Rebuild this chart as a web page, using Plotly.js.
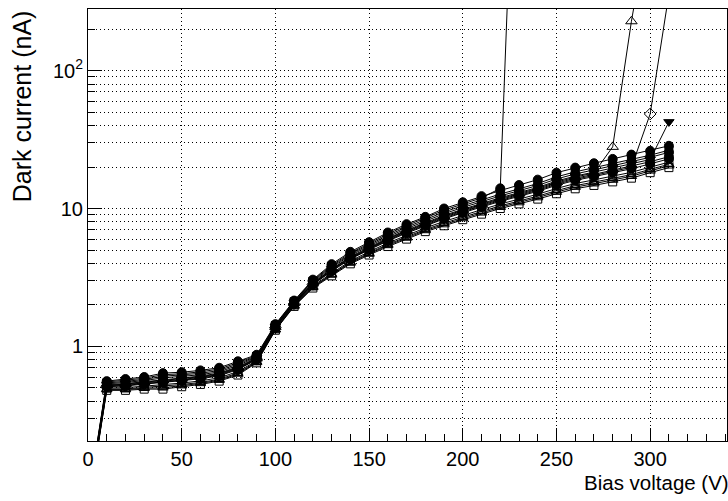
<!DOCTYPE html>
<html><head><meta charset="utf-8">
<script src="https://cdn.plot.ly/plotly-3.0.1.min.js"></script>
<style>html,body{margin:0;padding:0;background:#fff}#chart{width:728px;height:501px}</style>
</head><body><div id="chart"></div>
<script>
// Bias voltage (V)
const voltage = [0,10,20,30,40,50,60,70,80,90,100,110,120,130,140,150,160,170,180,190,200,210,220,230,240,250,260,270,280,290,300,310];

// Dark current (nA) per sensor
const s1 = [0.075,0.56,0.58,0.60,0.64,0.65,0.67,0.70,0.78,0.87,1.45,2.15,3.05,3.95,4.85,5.7,6.7,7.7,8.7,10.0,11.1,12.3,13.5,14.8,16.2,18.2,19.8,21.3,22.9,24.6,26.2,28.5];
const sA = [0.074,0.552,0.569,0.588,0.623,0.634,0.654,0.685,0.762,0.858,1.435,2.13,3.01,3.87,4.75,5.58,6.54,7.51,8.49,9.72,10.78,11.93,14.0,50000];
const s2 = [0.073,0.543,0.558,0.576,0.607,0.619,0.638,0.669,0.745,0.847,1.421,2.11,2.97,3.80,4.66,5.46,6.39,7.32,8.28,9.44,10.47,11.58,12.72,13.9,15.18,16.96,18.45,19.78,21.21,22.74,24.36,26.5];
const s3 = [0.072,0.535,0.548,0.565,0.591,0.604,0.623,0.654,0.728,0.836,1.407,2.09,2.92,3.73,4.57,5.35,6.24,7.14,8.08,9.17,10.17,11.24,12.34,13.47,14.7,16.37,17.81,19.06,20.41,21.86,23.5,25.56];
const sD = [0.071,0.527,0.537,0.553,0.575,0.590,0.609,0.640,0.711,0.824,1.393,2.07,2.88,3.65,4.47,5.23,6.10,6.97,7.88,8.91,9.88,10.90,11.97,13.05,14.23,15.81,17.19,18.36,19.64,21.02,22.66,42.5];
const sB = [0.0705,0.522,0.533,0.548,0.568,0.583,0.603,0.633,0.703,0.818,1.385,2.06,2.86,3.62,4.42,5.17,6.03,6.88,7.78,8.78,9.74,10.74,11.79,12.84,14.0,15.53,16.9,18.1,28.0,228,1400];
const s4 = [0.070,0.518,0.528,0.542,0.560,0.576,0.596,0.626,0.695,0.813,1.378,2.05,2.84,3.58,4.38,5.12,5.96,6.80,7.69,8.66,9.60,10.58,11.62,12.64,13.77,15.26,16.59,17.69,18.90,20.21,21.85,23.77];
const sC = [0.0695,0.514,0.522,0.536,0.552,0.569,0.589,0.619,0.687,0.807,1.371,2.04,2.82,3.54,4.34,5.07,5.89,6.71,7.6,8.53,9.46,10.42,11.44,12.44,13.55,14.99,16.3,17.37,18.54,19.9,48.5,360];
const s5 = [0.069,0.51,0.517,0.531,0.545,0.562,0.582,0.612,0.679,0.802,1.365,2.03,2.80,3.51,4.30,5.02,5.82,6.63,7.51,8.41,9.32,10.26,11.27,12.25,13.33,14.73,16.01,17.05,18.19,19.43,21.07,22.92];
const s6 = [0.068,0.499,0.502,0.515,0.524,0.542,0.562,0.592,0.657,0.786,1.343,2.00,2.75,3.41,4.17,4.86,5.62,6.38,7.23,8.06,8.93,9.81,10.78,11.69,12.70,13.97,15.18,16.13,17.17,18.31,19.95,21.69];
const s7 = [0.067,0.491,0.492,0.504,0.510,0.529,0.548,0.578,0.642,0.776,1.330,1.98,2.71,3.35,4.09,4.75,5.49,6.23,7.05,7.83,8.68,9.52,10.45,11.32,12.29,13.48,14.65,15.54,16.53,17.61,19.24,20.93];
const s8 = [0.066,0.486,0.486,0.497,0.501,0.519,0.539,0.569,0.631,0.768,1.320,1.965,2.68,3.30,4.03,4.68,5.40,6.11,6.93,7.65,8.47,9.30,10.22,11.05,12.01,13.15,14.29,15.14,16.09,17.14,18.76,20.42];
const s9 = [0.065,0.48,0.48,0.49,0.49,0.51,0.53,0.56,0.62,0.76,1.31,1.95,2.65,3.25,3.97,4.6,5.3,6.0,6.8,7.5,8.3,9.1,10.0,10.8,11.7,12.8,13.9,14.7,15.6,16.6,18.2,19.8];

const xTickVals = [0,50,100,150,200,250,300];
const yTickVals = [1,10,100];
const yTickText = ['1','10','10<sup>2</sup>'];
const yMinorVals = [0.3,0.4,0.5,0.6,0.7,0.8,0.9,2,3,4,5,6,7,8,9,20,30,40,50,60,70,80,90,200];

const seriesList = [
  {y: s9, sym: 'square-open', size: 8},
  {y: s8, sym: 'triangle-up-open', size: 9},
  {y: s7, sym: 'triangle-up-open', size: 9},
  {y: s6, sym: 'square-open', size: 8},
  {y: sC, sym: 'diamond-open', size: 9},
  {y: sB, sym: 'triangle-up-open', size: 10},
  {y: s5, sym: 'circle', size: 9},
  {y: s4, sym: 'circle', size: 9},
  {y: sD, sym: 'triangle-down', size: 9},
  {y: s3, sym: 'circle', size: 9},
  {y: s2, sym: 'square', size: 8},
  {y: sA, sym: 'circle', size: 9},
  {y: s1, sym: 'circle', size: 9}
];

const traces = seriesList.map(s => ({
  x: voltage.slice(0, s.y.length),
  y: s.y,
  type: 'scatter',
  mode: 'lines+markers',
  line: {color: '#000', width: 1},
  marker: {symbol: s.sym, size: s.size, color: '#000', line: {color: '#000', width: 1}},
  showlegend: false
}));

const font = {family: '"Liberation Sans", Arial, Helvetica, sans-serif', color: '#000'};
const gridDash = '1px,3px';

const layout = {
  width: 728, height: 501,
  margin: {l: 88, r: 1, t: 9, b: 60, pad: 0},
  paper_bgcolor: '#fff', plot_bgcolor: '#fff',
  font: Object.assign({size: 20}, font),
  showlegend: false,
  xaxis: {
    range: [0, 341],
    tickmode: 'array', tickvals: xTickVals,
    ticks: 'inside', ticklen: 13, tickcolor: '#000', tickwidth: 1,
    showline: true, linecolor: '#000', linewidth: 1, mirror: true,
    showgrid: true, gridcolor: '#000', griddash: gridDash, gridwidth: 1,
    zeroline: false,
    tickfont: Object.assign({size: 20}, font),
    minor: {dtick: 10, ticks: 'inside', ticklen: 7, tickcolor: '#000', showgrid: false}
  },
  yaxis: {
    type: 'log',
    range: [-0.686, 2.447],
    tickmode: 'array', tickvals: yTickVals, ticktext: yTickText,
    ticks: 'inside', ticklen: 14, tickcolor: '#000', tickwidth: 1,
    showline: true, linecolor: '#000', linewidth: 1, mirror: true,
    showgrid: true, gridcolor: '#000', griddash: gridDash, gridwidth: 1,
    zeroline: false,
    tickfont: Object.assign({size: 20}, font),
    minor: {tickmode: 'array', tickvals: yMinorVals, ticks: 'inside', ticklen: 7, tickcolor: '#000',
            showgrid: true, gridcolor: '#000', griddash: gridDash, gridwidth: 1}
  },
  annotations: [
    {text: 'Bias voltage (V)', xref: 'paper', yref: 'paper', x: 1, y: -0.095, xshift: 4,
     xanchor: 'right', yanchor: 'middle', showarrow: false, font: Object.assign({size: 20.5}, font)},
    {text: 'Dark current (nA)', xref: 'paper', yref: 'paper', x: -0.103, y: 1.002,
     xanchor: 'center', yanchor: 'top', textangle: -90, showarrow: false, font: Object.assign({size: 25}, font)}
  ]
};

Plotly.newPlot('chart', traces, layout, {staticPlot: true, displayModeBar: false});
</script>
</body></html>
